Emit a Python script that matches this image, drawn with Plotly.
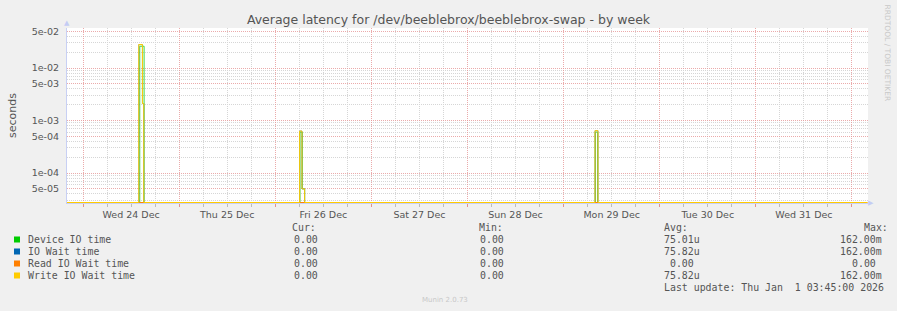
import plotly.graph_objects as go

# ---------------- data ----------------
TITLE = "Average latency for /dev/beeblebrox/beeblebrox-swap - by week"
X_START = "2025-12-23 20:00"
X_END = "2026-01-01 04:00"

day_labels = ["Wed 24 Dec", "Thu 25 Dec", "Fri 26 Dec", "Sat 27 Dec",
              "Sun 28 Dec", "Mon 29 Dec", "Tue 30 Dec", "Wed 31 Dec"]
day_label_times = ["2025-12-24 12:00", "2025-12-25 12:00", "2025-12-26 12:00",
                   "2025-12-27 12:00", "2025-12-28 12:00", "2025-12-29 12:00",
                   "2025-12-30 12:00", "2025-12-31 12:00"]
midnights = ["2025-12-24", "2025-12-25", "2025-12-26", "2025-12-27", "2025-12-28",
             "2025-12-29", "2025-12-30", "2025-12-31", "2026-01-01"]

y_tick_vals = [5e-5, 1e-4, 5e-4, 1e-3, 5e-3, 1e-2, 5e-2]
y_tick_text = ["5e-05", "1e-04", "5e-04", "1e-03", "5e-03", "1e-02", "5e-02"]

device_times = ["2025-12-23 20:00", "2025-12-24 14:10", "2025-12-24 15:15",
                "2025-12-26 06:10", "2025-12-26 06:45", "2025-12-26 07:20",
                "2025-12-29 07:55", "2025-12-29 08:30", "2026-01-01 04:00"]
device_vals = [0, 0.026, 0, 0.0006, 0.00005, 0, 0.0006, 0, 0]

iowait_times = ["2025-12-23 20:00", "2025-12-24 13:55", "2025-12-24 14:50",
                "2025-12-24 15:10", "2025-12-26 06:05", "2025-12-26 06:40",
                "2025-12-26 07:20", "2025-12-29 07:50", "2025-12-29 08:35",
                "2026-01-01 04:00"]
iowait_vals = [0, 0.028, 0.0021, 0, 0.00063, 0.00005, 0, 0.00064, 0, 0]

read_times = ["2025-12-23 20:00", "2026-01-01 04:00"]
read_vals = [0, 0]

write_times = ["2025-12-23 20:00", "2025-12-24 13:55", "2025-12-24 14:50",
               "2025-12-24 15:10", "2025-12-26 06:05", "2025-12-26 06:40",
               "2025-12-26 07:20", "2025-12-29 07:50", "2025-12-29 08:35",
               "2026-01-01 04:00"]
write_vals = [0, 0.028, 0.0021, 0, 0.00063, 0.00005, 0, 0.00064, 0, 0]

series_names = ["Device IO time", "IO Wait time", "Read IO Wait time", "Write IO Wait time"]
series_colors = ["#00cc00", "#0066b3", "#ff8000", "#ffcc00"]
cur_text = ["0.00", "0.00", "0.00", "0.00"]
min_text = ["0.00", "0.00", "0.00", "0.00"]
avg_text = ["75.01u", "75.82u", " 0.00", "75.82u"]
max_text = ["162.00m", "162.00m", "0.00 ", "162.00m"]
LAST_UPDATE = "Last update: Thu Jan  1 03:45:00 2026"

# ---------------- layout geometry ----------------
W, H = 897, 311
L, R, T, B = 67, 868, 28, 203
Y_LOG_RANGE = [-4.571, -1.238]
ZERO_FLOOR = 10 ** -4.562  # rrdtool draws zero at the bottom of a log graph


def px_x(x):
    return (x - L) / (R - L)


def px_y(y):
    return (B - y) / (B - T)


def floor0(vals):
    return [v if v > 0 else ZERO_FLOOR for v in vals]


fig = go.Figure()
for name, times, vals, color, xa, op in [
    (series_names[0], device_times, device_vals, series_colors[0], "x", 0.75),
    (series_names[1], iowait_times, iowait_vals, series_colors[1], "x", 0.6),
    (series_names[2], read_times, read_vals, series_colors[2], "x", 1.0),
    (series_names[3], write_times, write_vals, series_colors[3], "x2", 1.0),
]:
    fig.add_trace(go.Scatter(x=times, y=floor0(vals), mode="lines", name=name,
                             line=dict(color=color, width=1, shape="hv"),
                             opacity=op,
                             xaxis=xa, yaxis="y", showlegend=False,
                             hoverinfo="skip"))

GRID_RED = "rgba(230,150,150,0.8)"
GRID_GRAY = "#d6d6d6"
DASH = "1px,1px"
TXT = "#555555"
FONT = "DejaVu Sans"
MONO = "DejaVu Sans Mono"

minor_y = [m * 10 ** e for e in range(-5, -1) for m in (2, 3, 4, 6, 7, 8, 9)]
minor_y = [v for v in minor_y if 2.7e-5 < v < 5.7e-2]

fig.update_layout(
    width=W, height=H,
    margin=dict(l=L, r=W - R, t=T, b=H - B),
    paper_bgcolor="#f0f0f0",
    plot_bgcolor="#ffffff",
    font=dict(family=FONT, size=10, color=TXT),
    xaxis=dict(
        type="date", range=[X_START, X_END], autorange=False,
        tickmode="array", tickvals=day_label_times, ticktext=day_labels,
        tickfont=dict(family=FONT, size=9.5, color=TXT),
        showgrid=True, gridcolor=GRID_GRAY, griddash=DASH, gridwidth=1,
        ticks="outside", ticklen=3, tickcolor="#bbbbbb",
        minor=dict(tick0="2025-12-24 06:00", dtick=12 * 3600 * 1000,
                   showgrid=True, gridcolor=GRID_GRAY, griddash=DASH,
                   ticks="outside", ticklen=3, tickcolor="#bbbbbb"),
        showline=True, linecolor="#c8d0f4", linewidth=1,
        zeroline=False, layer="below traces",
    ),
    xaxis2=dict(
        type="date", range=[X_START, X_END], autorange=False,
        overlaying="x", anchor="y", side="bottom",
        tickmode="array", tickvals=midnights, showticklabels=False,
        showgrid=True, gridcolor=GRID_RED, griddash=DASH, gridwidth=1,
        ticks="outside", ticklen=3, tickcolor="#e09090",
        showline=False, zeroline=False, layer="below traces",
    ),
    yaxis=dict(
        type="log", range=Y_LOG_RANGE, autorange=False,
        tickmode="array", tickvals=y_tick_vals, ticktext=y_tick_text,
        tickfont=dict(family=FONT, size=9.5, color=TXT),
        showgrid=True, gridcolor=GRID_RED, griddash=DASH, gridwidth=1,
        ticks="", ticklabelstandoff=5,
        minor=dict(tickvals=minor_y, showgrid=True, gridcolor=GRID_GRAY,
                   griddash=DASH, ticks=""),
        showline=True, linecolor="#c8d0f4", linewidth=1,
        zeroline=False, layer="below traces",
        title=dict(text="seconds", font=dict(family=FONT, size=11, color=TXT),
                   standoff=12),
    ),
    title=dict(text=TITLE, x=0.5, xref="container", xanchor="center",
               y=1 - 19.5 / H, yref="container", yanchor="middle",
               font=dict(family=FONT, size=12.5, color=TXT)),
)

ann = []
# axis arrows
ann.append(dict(x=px_x(66.7), y=px_y(23.5), xref="paper", yref="paper",
                text="▲", showarrow=False, font=dict(size=7, color="#c4ccf4"),
                xanchor="center", yanchor="middle"))
ann.append(dict(x=px_x(871), y=px_y(203), xref="paper", yref="paper",
                text="▶", showarrow=False, font=dict(size=7, color="#c4ccf4"),
                xanchor="center", yanchor="middle"))
# watermark
ann.append(dict(x=px_x(887.5), y=px_y(53), xref="paper", yref="paper",
                text="RRDTOOL / TOBI OETIKER", textangle=90, showarrow=False,
                font=dict(family=FONT, size=7.5, color="#c8c8c8"),
                xanchor="center", yanchor="middle"))
ann.append(dict(x=px_x(445), y=px_y(299.5), xref="paper", yref="paper",
                text="Munin 2.0.73", showarrow=False,
                font=dict(family=FONT, size=7, color="#c8c8c8"),
                xanchor="center", yanchor="middle"))

# legend table
NB = "\u00a0"


def mono(text, x, y, anchor="left"):
    ann.append(dict(x=px_x(x), y=px_y(y), xref="paper", yref="paper",
                    text=text.replace(" ", NB), showarrow=False,
                    font=dict(family=MONO, size=9.9, color=TXT),
                    xanchor=anchor, yanchor="middle"))


header_y = 227.5
row_ys = [239.5, 251.5, 263.5, 275.5]
mono("Cur:", 290, header_y)
mono("Min:", 476.7, header_y)
mono("Avg:", 661.7, header_y)
mono("Max:", 861.7, header_y)
shapes = []
for i, yy in enumerate(row_ys):
    mono(series_names[i], 26, yy)
    mono(cur_text[i], 319.6, yy, "right")
    mono(min_text[i], 505.5, yy, "right")
    mono(avg_text[i], 661.7, yy)
    mono(max_text[i], 883.5, yy, "right")
    shapes.append(dict(type="rect", xref="paper", yref="paper",
                       x0=px_x(14), x1=px_x(20), y0=px_y(yy + 3), y1=px_y(yy - 3),
                       fillcolor=series_colors[i], line=dict(width=0)))
mono(LAST_UPDATE, 661.7, 287.5)

fig.update_layout(annotations=ann, shapes=shapes)

fig.write_html("out.html")
